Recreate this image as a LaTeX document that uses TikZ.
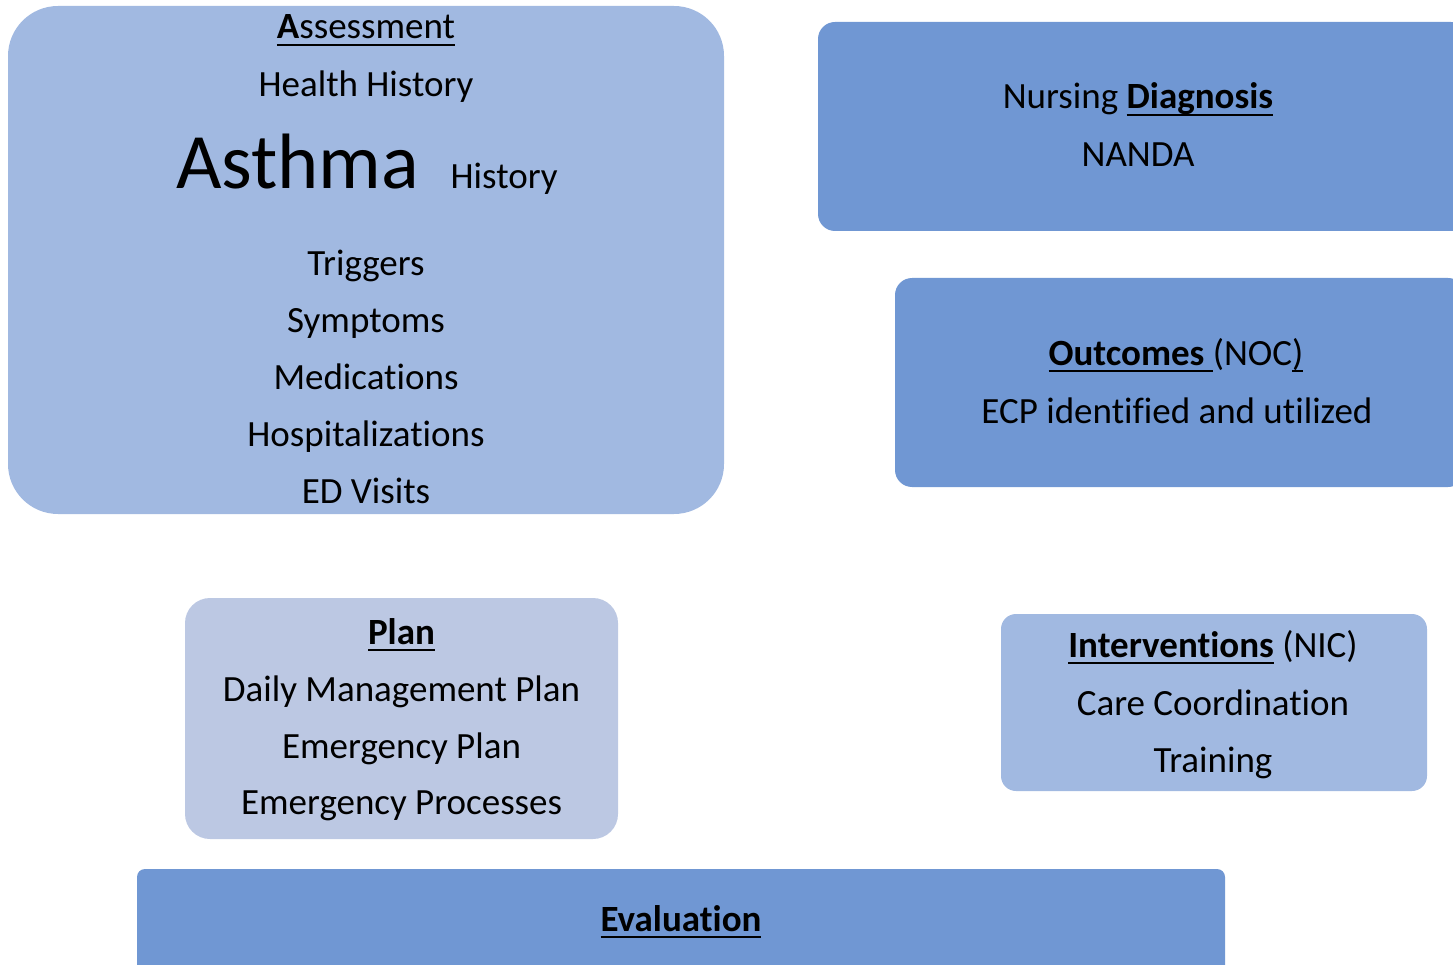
\documentclass[tikz,border=0pt]{standalone}
\usepackage{fontspec}
\setmainfont[Ligatures=NoCommon]{Carlito}
\usetikzlibrary{positioning}

\definecolor{boxdark}{HTML}{7097D3}
\definecolor{boxlight}{HTML}{A1B9E1}
\definecolor{boxpale}{HTML}{BCC8E3}

% word underlined at a fixed depth, descenders cross it
\newcommand{\ulword}[1]{\setbox0\hbox{#1}\rlap{\rule[-0.2em]{\wd0}{0.06em}}\box0\relax}

\tikzset{
  panel/.style={rectangle, draw=none, inner sep=0pt},
  txt/.style={anchor=base, inner sep=0pt, font=\fontsize{37}{40}\selectfont}
}

\begin{document}
\begin{tikzpicture}[x=1pt, y=-1pt]
    \useasboundingbox (0,0) rectangle (1453,965);
    \clip (0,0) rectangle (1453,965);

    % boxes
    \node[panel, fill=boxlight, rounded corners=50pt, minimum width=716pt, minimum height=508pt] (assess) at (366,260) {};
    \node[panel, fill=boxdark, rounded corners=17pt, minimum width=650pt, minimum height=209pt] (diag) at (1143,126.5) {};
    \node[panel, fill=boxdark, rounded corners=17pt, minimum width=570pt, minimum height=209pt] (outc) at (1180,382.5) {};
    \node[panel, fill=boxpale, rounded corners=25pt, minimum width=433pt, minimum height=241pt] (plan) at (401.5,718.5) {};
    \node[panel, fill=boxlight, rounded corners=15pt, minimum width=426pt, minimum height=177pt] (interv) at (1214,702.5) {};
    \node[panel, fill=boxdark, rounded corners=8pt, minimum width=1088pt, minimum height=130pt] (eval) at (681,934) {};

    % Assessment
    \node[txt] (assesstitle) at (366,39) {\ulword{\textbf{A}ssessment}};
    \node[txt] (health) at (366,97) {Health History};
    \node[txt, anchor=base west, font=\fontsize{78.5}{80}\selectfont] (asthma) at (176,189) {Asthma};
    \node[txt, right=31pt of asthma.base east, anchor=base west] (asthmahist) {History};
    \foreach \item [count=\i] in {Triggers, Symptoms, Medications, Hospitalizations, ED Visits}
      \node[txt] (assess-\i) at (366, 276+56.75*\i-56.75) {\item};

    % Diagnosis
    \node[txt] (diagtitle) at (1138,109) {Nursing \ulword{\textbf{Diagnosis}}};
    \node[txt] (nanda) at (1138,167) {NANDA};

    % Outcomes
    \node[txt] (outctitle) at (1176,365) {\ulword{\textbf{Outcomes }}(NOC\ulword{)}};
    \node[txt] (ecp) at (1177,423) {ECP identified and utilized};

    % Plan
    \node[txt] (plantitle) at (401.5,644) {\ulword{\textbf{Plan}}};
    \node[txt] (daily) at (401.5,701) {Daily Management Plan};
    \node[txt] (emplan) at (401.5,758) {Emergency Plan};
    \node[txt] (emproc) at (401.5,814) {Emergency Processes};

    % Interventions
    \node[txt] (intervtitle) at (1213,657) {\ulword{\textbf{Interventions}} (NIC)};
    \node[txt] (carecoord) at (1213,715) {Care Coordination};
    \node[txt] (training) at (1213,772) {Training};

    % Evaluation
    \node[txt] (evaltitle) at (681,931) {\ulword{\textbf{Evaluation}}};
\end{tikzpicture}
\end{document}
